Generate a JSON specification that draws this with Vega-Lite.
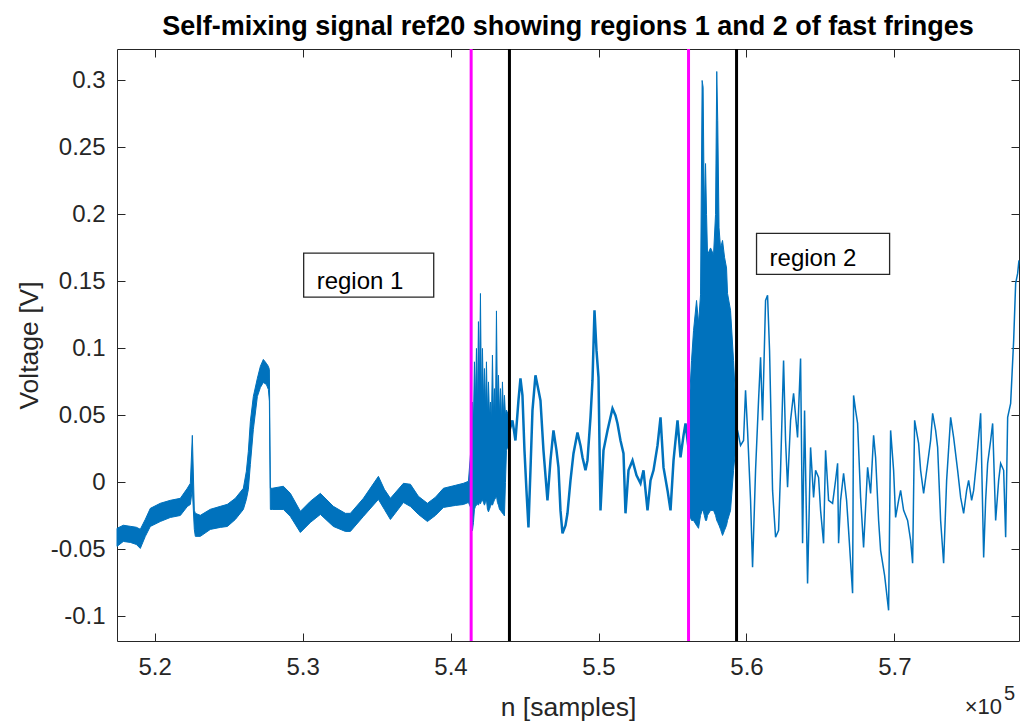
{
  "$schema": "https://vega.github.io/schema/vega-lite/v6.json",
  "width": 902,
  "height": 592,
  "autosize": {"type": "none"},
  "padding": {"left": 117, "top": 49, "right": 4, "bottom": 81},
  "background": "#ffffff",
  "title": {
    "text": "Self-mixing signal ref20 showing regions 1 and 2 of fast fringes",
    "font": "Liberation Sans",
    "fontSize": 27,
    "fontWeight": "bold",
    "color": "#000000",
    "anchor": "middle",
    "frame": "group",
    "baseline": "alphabetic",
    "offset": 17,
    "dy": 31
  },
  "config": {
    "view": {"stroke": null},
    "font": "Liberation Sans",
    "axis": {
      "grid": false,
      "domainColor": "#262626",
      "tickColor": "#262626",
      "labelColor": "#262626",
      "titleColor": "#262626",
      "domainWidth": 1,
      "tickWidth": 1,
      "tickSize": -8,
      "labelFont": "Liberation Sans",
      "titleFont": "Liberation Sans",
      "labelFontSize": 24,
      "titleFontSize": 26.5,
      "titleFontWeight": "normal",
      "labelFlush": false,
      "labelOverlap": false
    }
  },
  "datasets": {
    "band": [
      {"seg": "a", "n": 517460, "hi": -0.0343, "lo": -0.0478},
      {"seg": "a", "n": 517884, "hi": -0.032, "lo": -0.0441},
      {"seg": "a", "n": 518357, "hi": -0.0328, "lo": -0.0448},
      {"seg": "a", "n": 518763, "hi": -0.0335, "lo": -0.0463},
      {"seg": "a", "n": 519033, "hi": -0.035, "lo": -0.0493},
      {"seg": "a", "n": 519372, "hi": -0.0276, "lo": -0.0403},
      {"seg": "a", "n": 519710, "hi": -0.0194, "lo": -0.0329},
      {"seg": "a", "n": 520386, "hi": -0.0156, "lo": -0.0292},
      {"seg": "a", "n": 521062, "hi": -0.0134, "lo": -0.0262},
      {"seg": "a", "n": 521738, "hi": -0.0119, "lo": -0.0247},
      {"seg": "a", "n": 522211, "hi": -0.0044, "lo": -0.018},
      {"seg": "a", "n": 522414, "hi": -0.0007, "lo": -0.0165},
      {"seg": "a", "n": 522549, "hi": 0.0351, "lo": -0.005},
      {"seg": "a", "n": 522684, "hi": -0.0208, "lo": -0.0351},
      {"seg": "a", "n": 522752, "hi": -0.0231, "lo": -0.0403},
      {"seg": "a", "n": 523090, "hi": -0.0246, "lo": -0.0403},
      {"seg": "a", "n": 523766, "hi": -0.0201, "lo": -0.0351},
      {"seg": "a", "n": 524442, "hi": -0.0179, "lo": -0.0336},
      {"seg": "a", "n": 524916, "hi": -0.0164, "lo": -0.0329},
      {"seg": "a", "n": 525456, "hi": -0.0119, "lo": -0.0277},
      {"seg": "a", "n": 525997, "hi": -0.0044, "lo": -0.0202},
      {"seg": "a", "n": 526200, "hi": 0.0083, "lo": -0.0127},
      {"seg": "a", "n": 526335, "hi": 0.0232, "lo": -0.0053},
      {"seg": "a", "n": 526471, "hi": 0.0456, "lo": 0.0134},
      {"seg": "a", "n": 526673, "hi": 0.0642, "lo": 0.0395},
      {"seg": "a", "n": 526944, "hi": 0.0777, "lo": 0.0641},
      {"seg": "a", "n": 527147, "hi": 0.0866, "lo": 0.0708},
      {"seg": "a", "n": 527349, "hi": 0.0918, "lo": 0.0746},
      {"seg": "a", "n": 527552, "hi": 0.0889, "lo": 0.0731},
      {"seg": "a", "n": 527688, "hi": 0.0866, "lo": 0.0694},
      {"seg": "a", "n": 527755, "hi": 0.0843, "lo": 0.0607},
      {"seg": "a", "n": 527823, "hi": -0.0044, "lo": -0.0202},
      {"seg": "a", "n": 527958, "hi": -0.0044, "lo": -0.0202},
      {"seg": "a", "n": 528702, "hi": -0.0029, "lo": -0.0202},
      {"seg": "a", "n": 529175, "hi": -0.0082, "lo": -0.0254},
      {"seg": "a", "n": 529851, "hi": -0.0216, "lo": -0.0374},
      {"seg": "a", "n": 530527, "hi": -0.0141, "lo": -0.0299},
      {"seg": "a", "n": 531203, "hi": -0.0082, "lo": -0.0239},
      {"seg": "a", "n": 532082, "hi": -0.0179, "lo": -0.0329},
      {"seg": "a", "n": 532893, "hi": -0.0231, "lo": -0.0366},
      {"seg": "a", "n": 533232, "hi": -0.0231, "lo": -0.0366},
      {"seg": "a", "n": 534110, "hi": -0.0119, "lo": -0.0254},
      {"seg": "a", "n": 535125, "hi": 0.0045, "lo": -0.0127},
      {"seg": "a", "n": 535530, "hi": -0.0052, "lo": -0.0202},
      {"seg": "a", "n": 535936, "hi": -0.0119, "lo": -0.0277},
      {"seg": "a", "n": 536815, "hi": -0.0007, "lo": -0.015},
      {"seg": "a", "n": 537288, "hi": -0.0014, "lo": -0.018},
      {"seg": "a", "n": 537829, "hi": -0.0104, "lo": -0.0239},
      {"seg": "a", "n": 538437, "hi": -0.0156, "lo": -0.0292},
      {"seg": "a", "n": 538978, "hi": -0.0111, "lo": -0.0247},
      {"seg": "a", "n": 539519, "hi": -0.0044, "lo": -0.0187},
      {"seg": "a", "n": 540331, "hi": -0.0022, "lo": -0.0172},
      {"seg": "a", "n": 540871, "hi": -0.0007, "lo": -0.0165},
      {"seg": "a", "n": 541209, "hi": 0.0008, "lo": -0.015},
      {"seg": "a", "n": 541412, "hi": 0.03, "lo": -0.02},
      {"seg": "a", "n": 541480, "hi": 0.06, "lo": -0.036},
      {"seg": "a", "n": 541548, "hi": 0.045, "lo": -0.03},
      {"seg": "a", "n": 541615, "hi": 0.09, "lo": -0.02},
      {"seg": "a", "n": 541683, "hi": 0.06, "lo": -0.018},
      {"seg": "a", "n": 541751, "hi": 0.1, "lo": -0.017},
      {"seg": "a", "n": 541818, "hi": 0.055, "lo": -0.016},
      {"seg": "a", "n": 541886, "hi": 0.12, "lo": -0.017},
      {"seg": "a", "n": 541954, "hi": 0.07, "lo": -0.015},
      {"seg": "a", "n": 542021, "hi": 0.141, "lo": -0.016},
      {"seg": "a", "n": 542089, "hi": 0.06, "lo": -0.014},
      {"seg": "a", "n": 542156, "hi": 0.1, "lo": -0.013},
      {"seg": "a", "n": 542224, "hi": 0.06, "lo": -0.015},
      {"seg": "a", "n": 542291, "hi": 0.085, "lo": -0.017},
      {"seg": "a", "n": 542359, "hi": 0.055, "lo": -0.015},
      {"seg": "a", "n": 542427, "hi": 0.09, "lo": -0.013},
      {"seg": "a", "n": 542494, "hi": 0.05, "lo": -0.02},
      {"seg": "a", "n": 542562, "hi": 0.075, "lo": -0.022},
      {"seg": "a", "n": 542630, "hi": 0.05, "lo": -0.02},
      {"seg": "a", "n": 542697, "hi": 0.06, "lo": -0.018},
      {"seg": "a", "n": 542765, "hi": 0.045, "lo": -0.016},
      {"seg": "a", "n": 542832, "hi": 0.095, "lo": -0.017},
      {"seg": "a", "n": 542900, "hi": 0.05, "lo": -0.015},
      {"seg": "a", "n": 542967, "hi": 0.07, "lo": -0.013},
      {"seg": "a", "n": 543035, "hi": 0.045, "lo": -0.012},
      {"seg": "a", "n": 543103, "hi": 0.128, "lo": -0.01},
      {"seg": "a", "n": 543170, "hi": 0.055, "lo": -0.015},
      {"seg": "a", "n": 543238, "hi": 0.08, "lo": -0.017},
      {"seg": "a", "n": 543306, "hi": 0.05, "lo": -0.02},
      {"seg": "a", "n": 543373, "hi": 0.07, "lo": -0.021},
      {"seg": "a", "n": 543441, "hi": 0.045, "lo": -0.022},
      {"seg": "a", "n": 543508, "hi": 0.075, "lo": -0.023},
      {"seg": "a", "n": 543576, "hi": 0.05, "lo": -0.024},
      {"seg": "a", "n": 543643, "hi": 0.065, "lo": -0.025},
      {"seg": "a", "n": 543711, "hi": 0.05, "lo": 0.0},
      {"seg": "a", "n": 543779, "hi": 0.054, "lo": 0.024},
      {"seg": "a", "n": 543914, "hi": 0.05, "lo": 0.0276},
      {"seg": "b", "n": 556151, "hi": 0.0612, "lo": -0.0246},
      {"seg": "b", "n": 556287, "hi": 0.091, "lo": -0.0284},
      {"seg": "b", "n": 556422, "hi": 0.1134, "lo": -0.0284},
      {"seg": "b", "n": 556625, "hi": 0.1358, "lo": -0.0321},
      {"seg": "b", "n": 556760, "hi": 0.1187, "lo": -0.0343},
      {"seg": "b", "n": 556895, "hi": 0.14, "lo": -0.0246},
      {"seg": "b", "n": 557003, "hi": 0.3, "lo": -0.0209},
      {"seg": "b", "n": 557070, "hi": 0.295, "lo": -0.0209},
      {"seg": "b", "n": 557151, "hi": 0.2, "lo": -0.0246},
      {"seg": "b", "n": 557233, "hi": 0.238, "lo": -0.0284},
      {"seg": "b", "n": 557301, "hi": 0.2, "lo": -0.0284},
      {"seg": "b", "n": 557368, "hi": 0.17, "lo": -0.0246},
      {"seg": "b", "n": 557571, "hi": 0.175, "lo": -0.0209},
      {"seg": "b", "n": 557774, "hi": 0.17, "lo": -0.0209},
      {"seg": "b", "n": 557909, "hi": 0.2, "lo": -0.0246},
      {"seg": "b", "n": 557991, "hi": 0.3067, "lo": -0.0284},
      {"seg": "b", "n": 558058, "hi": 0.27, "lo": -0.0299},
      {"seg": "b", "n": 558146, "hi": 0.19, "lo": -0.0321},
      {"seg": "b", "n": 558247, "hi": 0.175, "lo": -0.035},
      {"seg": "b", "n": 558382, "hi": 0.1806, "lo": -0.0396},
      {"seg": "b", "n": 558518, "hi": 0.168, "lo": -0.0358},
      {"seg": "b", "n": 558653, "hi": 0.16, "lo": -0.032},
      {"seg": "b", "n": 558720, "hi": 0.141, "lo": -0.0284},
      {"seg": "b", "n": 558923, "hi": 0.1284, "lo": -0.0209},
      {"seg": "b", "n": 559126, "hi": 0.091, "lo": 0.009},
      {"seg": "b", "n": 559261, "hi": 0.0612, "lo": 0.0239}
    ],
    "mid": [
      {"n": 543914, "v": 0.039},
      {"n": 543981, "v": 0.0388},
      {"n": 544184, "v": 0.0463},
      {"n": 544387, "v": 0.0313},
      {"n": 544590, "v": 0.0612},
      {"n": 544725, "v": 0.0776},
      {"n": 544860, "v": 0.0649},
      {"n": 544996, "v": 0.0239},
      {"n": 545131, "v": -0.006},
      {"n": 545266, "v": -0.0336},
      {"n": 545401, "v": 0.009},
      {"n": 545537, "v": 0.0537},
      {"n": 545739, "v": 0.0799},
      {"n": 545942, "v": 0.0687},
      {"n": 546077, "v": 0.0612},
      {"n": 546280, "v": 0.0239},
      {"n": 546551, "v": -0.0134},
      {"n": 546754, "v": 0.0164},
      {"n": 546956, "v": 0.0388},
      {"n": 547159, "v": 0.0239},
      {"n": 547294, "v": 0.0112},
      {"n": 547430, "v": -0.0209},
      {"n": 547565, "v": -0.0381},
      {"n": 547768, "v": -0.0321},
      {"n": 547903, "v": -0.0231},
      {"n": 548106, "v": 0.0015},
      {"n": 548309, "v": 0.0216},
      {"n": 548579, "v": 0.0373},
      {"n": 548782, "v": 0.0276},
      {"n": 548917, "v": 0.0187},
      {"n": 549120, "v": 0.009},
      {"n": 549255, "v": 0.0164},
      {"n": 549458, "v": 0.0485},
      {"n": 549593, "v": 0.0761},
      {"n": 549728, "v": 0.1284},
      {"n": 549864, "v": 0.0985},
      {"n": 549999, "v": 0.0784},
      {"n": 550134, "v": -0.0209},
      {"n": 550337, "v": 0.0239},
      {"n": 550607, "v": 0.0388},
      {"n": 550945, "v": 0.0552},
      {"n": 551148, "v": 0.05},
      {"n": 551283, "v": 0.044},
      {"n": 551486, "v": 0.0313},
      {"n": 551689, "v": 0.0216},
      {"n": 551824, "v": -0.0231},
      {"n": 552027, "v": 0.009},
      {"n": 552298, "v": 0.0164},
      {"n": 552568, "v": 0.0052},
      {"n": 552838, "v": -0.0007},
      {"n": 553041, "v": 0.009},
      {"n": 553312, "v": -0.0209},
      {"n": 553515, "v": 0.0015},
      {"n": 553717, "v": 0.009},
      {"n": 553988, "v": 0.0276},
      {"n": 554191, "v": 0.0485},
      {"n": 554393, "v": 0.0112},
      {"n": 554664, "v": -0.006},
      {"n": 554867, "v": -0.0209},
      {"n": 555070, "v": 0.0164},
      {"n": 555340, "v": 0.0463},
      {"n": 555543, "v": 0.0187},
      {"n": 555746, "v": 0.0351},
      {"n": 555881, "v": 0.044},
      {"n": 556016, "v": 0.0313},
      {"n": 556151, "v": 0.02}
    ],
    "tail": [
      {"n": 559261, "v": 0.042},
      {"n": 559397, "v": 0.0388},
      {"n": 559599, "v": 0.0276},
      {"n": 559802, "v": 0.0313},
      {"n": 559937, "v": 0.0687},
      {"n": 560073, "v": 0.0388},
      {"n": 560276, "v": -0.0134},
      {"n": 560411, "v": -0.0634},
      {"n": 560614, "v": 0.009},
      {"n": 560816, "v": 0.0612},
      {"n": 560952, "v": 0.0933},
      {"n": 561087, "v": 0.0463},
      {"n": 561290, "v": 0.1358},
      {"n": 561425, "v": 0.1396},
      {"n": 561560, "v": 0.0985},
      {"n": 561763, "v": -0.006},
      {"n": 561966, "v": -0.041},
      {"n": 562169, "v": -0.0358},
      {"n": 562304, "v": 0.009},
      {"n": 562507, "v": 0.091},
      {"n": 562642, "v": 0.0313},
      {"n": 562777, "v": -0.0037},
      {"n": 562980, "v": 0.0463},
      {"n": 563183, "v": 0.0664},
      {"n": 563453, "v": 0.0336},
      {"n": 563656, "v": 0.0925},
      {"n": 563791, "v": -0.0455},
      {"n": 563926, "v": 0.0537},
      {"n": 564129, "v": -0.0754},
      {"n": 564332, "v": 0.0261},
      {"n": 564535, "v": -0.0112},
      {"n": 564670, "v": 0.009},
      {"n": 564873, "v": 0.0037},
      {"n": 565008, "v": -0.0209},
      {"n": 565211, "v": -0.0455},
      {"n": 565346, "v": 0.0239},
      {"n": 565549, "v": -0.0134},
      {"n": 565820, "v": -0.0157},
      {"n": 566022, "v": 0.0015},
      {"n": 566158, "v": 0.0142},
      {"n": 566225, "v": -0.0455},
      {"n": 566360, "v": -0.0134},
      {"n": 566563, "v": 0.0067},
      {"n": 566766, "v": -0.0134},
      {"n": 566901, "v": -0.0358},
      {"n": 567172, "v": -0.0828},
      {"n": 567239, "v": 0.0649},
      {"n": 567375, "v": 0.0537},
      {"n": 567510, "v": 0.044},
      {"n": 567713, "v": -0.0112},
      {"n": 567915, "v": -0.0485},
      {"n": 568186, "v": 0.0112},
      {"n": 568389, "v": -0.0082},
      {"n": 568592, "v": 0.0351},
      {"n": 568727, "v": 0.0187},
      {"n": 568930, "v": -0.0284},
      {"n": 569065, "v": -0.0507},
      {"n": 569335, "v": -0.0694},
      {"n": 569606, "v": -0.0955},
      {"n": 569741, "v": 0.0388},
      {"n": 569944, "v": 0.009},
      {"n": 570079, "v": -0.0261},
      {"n": 570282, "v": -0.0134},
      {"n": 570417, "v": -0.006},
      {"n": 570620, "v": -0.0209},
      {"n": 570890, "v": -0.0284},
      {"n": 571093, "v": -0.0433},
      {"n": 571228, "v": -0.0604},
      {"n": 571364, "v": 0.0463},
      {"n": 571634, "v": 0.0291},
      {"n": 571769, "v": 0.009},
      {"n": 571972, "v": -0.0082},
      {"n": 572243, "v": 0.0142},
      {"n": 572445, "v": 0.0313},
      {"n": 572581, "v": 0.0515},
      {"n": 572783, "v": 0.0388},
      {"n": 572919, "v": 0.0261},
      {"n": 573121, "v": -0.0284},
      {"n": 573324, "v": -0.0604},
      {"n": 573527, "v": 0.0015},
      {"n": 573798, "v": 0.0485},
      {"n": 574000, "v": 0.0336},
      {"n": 574271, "v": 0.009},
      {"n": 574474, "v": -0.0112},
      {"n": 574676, "v": -0.0231},
      {"n": 574879, "v": -0.006},
      {"n": 575014, "v": 0.0015},
      {"n": 575217, "v": -0.0134},
      {"n": 575353, "v": -0.006},
      {"n": 575555, "v": 0.0164},
      {"n": 575826, "v": 0.0515},
      {"n": 576029, "v": -0.056},
      {"n": 576164, "v": -0.0134},
      {"n": 576299, "v": 0.0142},
      {"n": 576502, "v": 0.0313},
      {"n": 576637, "v": 0.044},
      {"n": 576840, "v": -0.0284},
      {"n": 577043, "v": 0.0015},
      {"n": 577178, "v": 0.0142},
      {"n": 577381, "v": 0.009},
      {"n": 577516, "v": -0.041},
      {"n": 577651, "v": 0.0485},
      {"n": 577854, "v": 0.059},
      {"n": 578057, "v": 0.106},
      {"n": 578192, "v": 0.1485},
      {"n": 578327, "v": 0.156},
      {"n": 578415, "v": 0.1657}
    ],
    "bounds": [
      {"kind": "start", "n": 541392},
      {"kind": "end", "n": 543981},
      {"kind": "start", "n": 556084},
      {"kind": "end", "n": 559329}
    ],
    "notes": [
      {"label": "region 1", "x0": 530074, "x1": 538863, "y0": 0.1383, "y1": 0.1711},
      {"label": "region 2", "x0": 560680, "x1": 569673, "y0": 0.1552, "y1": 0.1858}
    ]
  },
  "layer": [
    {
      "data": {"name": "band"},
      "mark": {"type": "area", "color": "#0072BD", "fillOpacity": 1, "stroke": "#0072BD", "strokeWidth": 1},
      "encoding": {
        "x": {
          "field": "n", "type": "quantitative",
          "scale": {"domain": [517458, 578418], "nice": false, "zero": false},
          "axis": {
            "orient": "bottom",
            "values": [520000, 530000, 540000, 550000, 560000, 570000],
            "labelExpr": "format(datum.value / 100000, '.1f')",
            "title": "n [samples]",
            "labelPadding": 22,
            "titlePadding": 15
          }
        },
        "y": {
          "field": "hi", "type": "quantitative",
          "scale": {"domain": [-0.1184, 0.3235], "nice": false, "zero": false},
          "axis": {
            "orient": "left",
            "values": [-0.1, -0.05, 0, 0.05, 0.1, 0.15, 0.2, 0.25, 0.3],
            "labelExpr": "replace(format(datum.value, '~g'), '\u2212', '-')",
            "title": "Voltage [V]",
            "labelPadding": 20,
            "titlePadding": 7
          }
        },
        "y2": {"field": "lo"},
        "detail": {"field": "seg"}
      }
    },
    {
      "data": {"name": "mid"},
      "mark": {"type": "line", "color": "#0072BD", "strokeWidth": 2.5},
      "encoding": {
        "x": {
          "field": "n", "type": "quantitative",
          "scale": {"domain": [517458, 578418], "nice": false, "zero": false},
          "axis": {
            "orient": "top",
            "values": [520000, 530000, 540000, 550000, 560000, 570000],
            "labels": false,
            "title": null
          }
        },
        "y": {
          "field": "v", "type": "quantitative",
          "scale": {"domain": [-0.1184, 0.3235], "nice": false, "zero": false},
          "axis": {
            "orient": "right",
            "values": [-0.1, -0.05, 0, 0.05, 0.1, 0.15, 0.2, 0.25, 0.3],
            "labels": false,
            "title": null
          }
        }
      }
    },
    {
      "data": {"name": "tail"},
      "mark": {"type": "line", "color": "#0072BD", "strokeWidth": 1.5},
      "encoding": {
        "x": {"field": "n", "type": "quantitative", "scale": {"domain": [517458, 578418], "nice": false, "zero": false}, "axis": null},
        "y": {"field": "v", "type": "quantitative", "scale": {"domain": [-0.1184, 0.3235], "nice": false, "zero": false}, "axis": null}
      }
    },
    {
      "data": {"name": "bounds"},
      "mark": {"type": "rule", "strokeWidth": 3},
      "encoding": {
        "x": {"field": "n", "type": "quantitative", "scale": {"domain": [517458, 578418], "nice": false, "zero": false}, "axis": null},
        "color": {
          "field": "kind", "type": "nominal",
          "scale": {"domain": ["start", "end"], "range": ["#FF00FF", "#000000"]},
          "legend": null
        }
      }
    },
    {
      "data": {"name": "notes"},
      "mark": {"type": "rect", "fill": "#ffffff", "stroke": "#262626", "strokeWidth": 1.3},
      "encoding": {
        "x": {"field": "x0", "type": "quantitative", "scale": {"domain": [517458, 578418], "nice": false, "zero": false}, "axis": null},
        "x2": {"field": "x1"},
        "y": {"field": "y0", "type": "quantitative", "scale": {"domain": [-0.1184, 0.3235], "nice": false, "zero": false}, "axis": null},
        "y2": {"field": "y1"}
      }
    },
    {
      "data": {"name": "notes"},
      "mark": {"type": "text", "align": "left", "baseline": "middle", "dx": 13, "dy": -15, "font": "Liberation Sans", "fontSize": 24, "color": "#000000"},
      "encoding": {
        "x": {"field": "x0", "type": "quantitative", "scale": {"domain": [517458, 578418], "nice": false, "zero": false}, "axis": null},
        "y": {"field": "y0", "type": "quantitative", "scale": {"domain": [-0.1184, 0.3235], "nice": false, "zero": false}, "axis": null},
        "text": {"field": "label"}
      }
    },
    {
      "data": {"values": [{"part": "base"}]},
      "mark": {"type": "text", "text": "\u00d710", "align": "right", "baseline": "alphabetic", "dx": -17, "dy": 73, "font": "Liberation Sans", "fontSize": 22, "color": "#262626"},
      "encoding": {
        "x": {"datum": 578418, "type": "quantitative", "scale": {"domain": [517458, 578418], "nice": false, "zero": false}, "axis": null},
        "y": {"datum": -0.1184, "type": "quantitative", "scale": {"domain": [-0.1184, 0.3235], "nice": false, "zero": false}, "axis": null}
      }
    },
    {
      "data": {"values": [{"part": "exponent"}]},
      "mark": {"type": "text", "text": "5", "align": "left", "baseline": "alphabetic", "dx": -15, "dy": 59, "font": "Liberation Sans", "fontSize": 20, "color": "#262626"},
      "encoding": {
        "x": {"datum": 578418, "type": "quantitative", "scale": {"domain": [517458, 578418], "nice": false, "zero": false}, "axis": null},
        "y": {"datum": -0.1184, "type": "quantitative", "scale": {"domain": [-0.1184, 0.3235], "nice": false, "zero": false}, "axis": null}
      }
    }
  ]
}
